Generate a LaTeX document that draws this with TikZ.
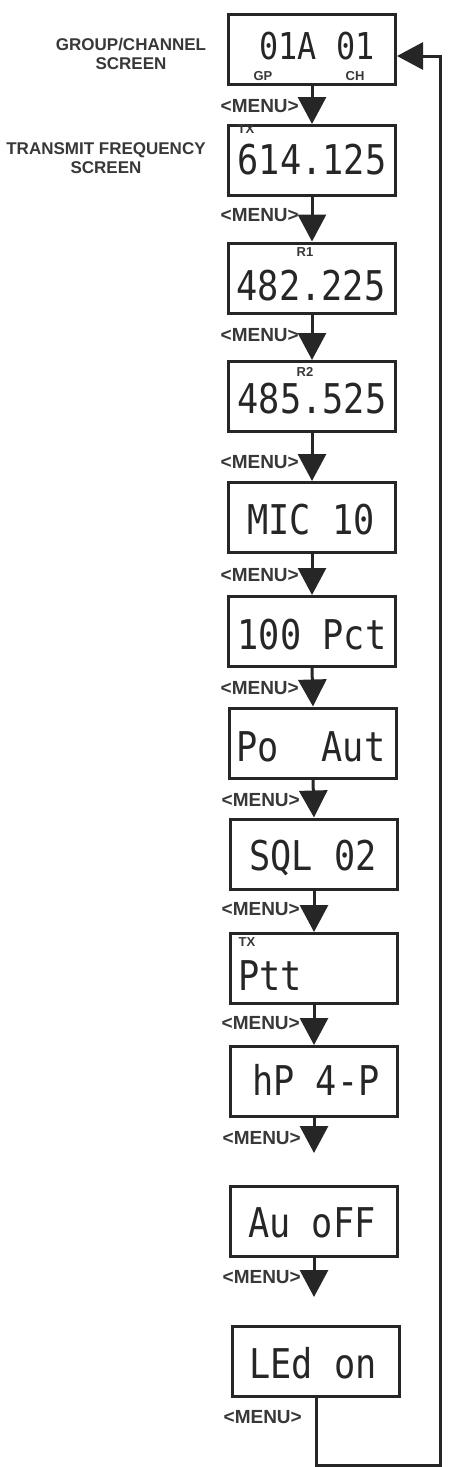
\documentclass[tikz,border=0pt]{standalone}
\usepackage{fontspec}
\usepackage{tikz}
\usetikzlibrary{arrows.meta}
\setmainfont{Liberation Sans}
\newfontfamily\lcdfont[FakeStretch=0.86]{DejaVu Sans Mono}
\definecolor{ink}{HTML}{262626}
\definecolor{txt}{HTML}{383838}

\begin{document}
\begin{tikzpicture}[x=1pt,y=-1pt,
    screen/.style={draw=ink,line width=3pt,minimum width=167pt,minimum height=70pt,inner sep=0pt},
    lcd/.style={font=\lcdfont\fontsize{41}{41}\selectfont,text=ink,inner sep=0pt,text height=30pt,text depth=0pt},
    tag/.style={font=\bfseries\fontsize{13}{13}\selectfont,text=txt,inner sep=0pt},
    menu/.style={font=\bfseries\fontsize{19}{19}\selectfont,text=txt,inner sep=0pt,anchor=east},
    caption/.style={font=\bfseries\fontsize{17}{18.5}\selectfont,text=txt,align=center,inner sep=0pt},
    flow/.style={draw=ink,line width=3pt,-{Triangle[length=27pt,width=28pt]}}]
                        \useasboundingbox (0,0) rectangle (448,1467);

                        % screens
                        \node (a) at (312,49.5) [screen] {};
                        \node (b) at (312,160.5) [screen] {};
                        \node (c) at (312,278) [screen] {};
                        \node (d) at (312,396.5) [screen] {};
                        \node (e) at (312,517.5) [screen] {};
                        \node (f) at (312,631.5) [screen] {};
                        \node (g) at (313,743) [screen] {};
                        \node (h) at (314,854) [screen] {};
                        \node (i) at (314,968.5) [screen] {};
                        \node (j) at (314,1081.5) [screen] {};
                        \node (k) at (314,1221.5) [screen] {};
                        \node (l) at (316,1361) [screen] {};

                        % display texts
                        \node (ta) at (317,46) [lcd,font=\lcdfont\fontsize{37}{37}\selectfont,text height=27pt] {01A 01};
                        \node (gp) at (263,76) [tag] {GP};
                        \node (ch) at (355,76) [tag] {CH};
                        \node (tx1) at (246,129) [tag] {TX};
                        \node (tb) at (312,159) [lcd] {614.125};
                        \node (r1) at (305,252) [tag] {R1};
                        \node (tc) at (311,285) [lcd] {482.225};
                        \node (r2) at (305,372) [tag] {R2};
                        \node (td) at (312,398) [lcd] {485.525};
                        \node (te) at (311,519) [lcd] {MIC 10};
                        \node (tf) at (312,634) [lcd] {100 Pct};
                        \node (tg) at (311,746) [lcd] {Po~~Aut};
                        \node (th) at (313,855) [lcd] {SQL 02};
                        \node (tx2) at (247,942) [tag] {TX};
                        \node (ti) at (238,975) [lcd,anchor=west] {Ptt};
                        \node (tj) at (316,1080) [lcd] {hP 4-P};
                        \node (tk) at (312,1222) [lcd] {Au oFF};
                        \node (tl) at (313,1363) [lcd] {LEd on};

                        % captions
                        \node (cap1) at (131,54) [caption] {GROUP/CHANNEL\\SCREEN};
                        \node (cap2) at (106,158) [caption] {TRANSMIT FREQUENCY\\SCREEN};

                        % menu labels
                        \node (m1) at (299,106) [menu] {<MENU>};
                        \node (m2) at (299,215) [menu] {<MENU>};
                        \node (m3) at (299,335) [menu] {<MENU>};
                        \node (m4) at (299,462) [menu] {<MENU>};
                        \node (m5) at (299,575) [menu] {<MENU>};
                        \node (m6) at (299,688) [menu] {<MENU>};
                        \node (m7) at (300,800) [menu] {<MENU>};
                        \node (m8) at (300,909) [menu] {<MENU>};
                        \node (m9) at (300,1023) [menu] {<MENU>};
                        \node (m10) at (301,1138) [menu] {<MENU>};
                        \node (m11) at (301,1277) [menu] {<MENU>};
                        \node (m12) at (302,1417) [menu] {<MENU>};

                        \coordinate (s1) at (314,1153);
                        \coordinate (s2) at (314,1297);
                        \coordinate (q1) at (440,1465);
                        \coordinate (q2) at (440,56);

                    \draw[flow] (a.south) -- (b.north);
                    \draw[flow] (b.south) -- (c.north);
                    \draw[flow] (c.south) -- (d.north);
                    \draw[flow] (d.south) -- (e.north);
                    \draw[flow] (e.south) -- (f.north);
                    \draw[flow] (f.south) -- (g.north);
                    \draw[flow] (g.south) -- (h.north);
                    \draw[flow] (h.south) -- (i.north);
                    \draw[flow] (i.south) -- (j.north);
                    \draw[flow] (j.south) -- (s1);
                    \draw[flow] (k.south) -- (s2);
                    \draw[draw=ink,line width=3pt,-{Triangle[length=26pt,width=27pt]}] (l.south) |- (q1) -- (q2) -- (a.east |- q2);
                \end{tikzpicture}
\end{document}
